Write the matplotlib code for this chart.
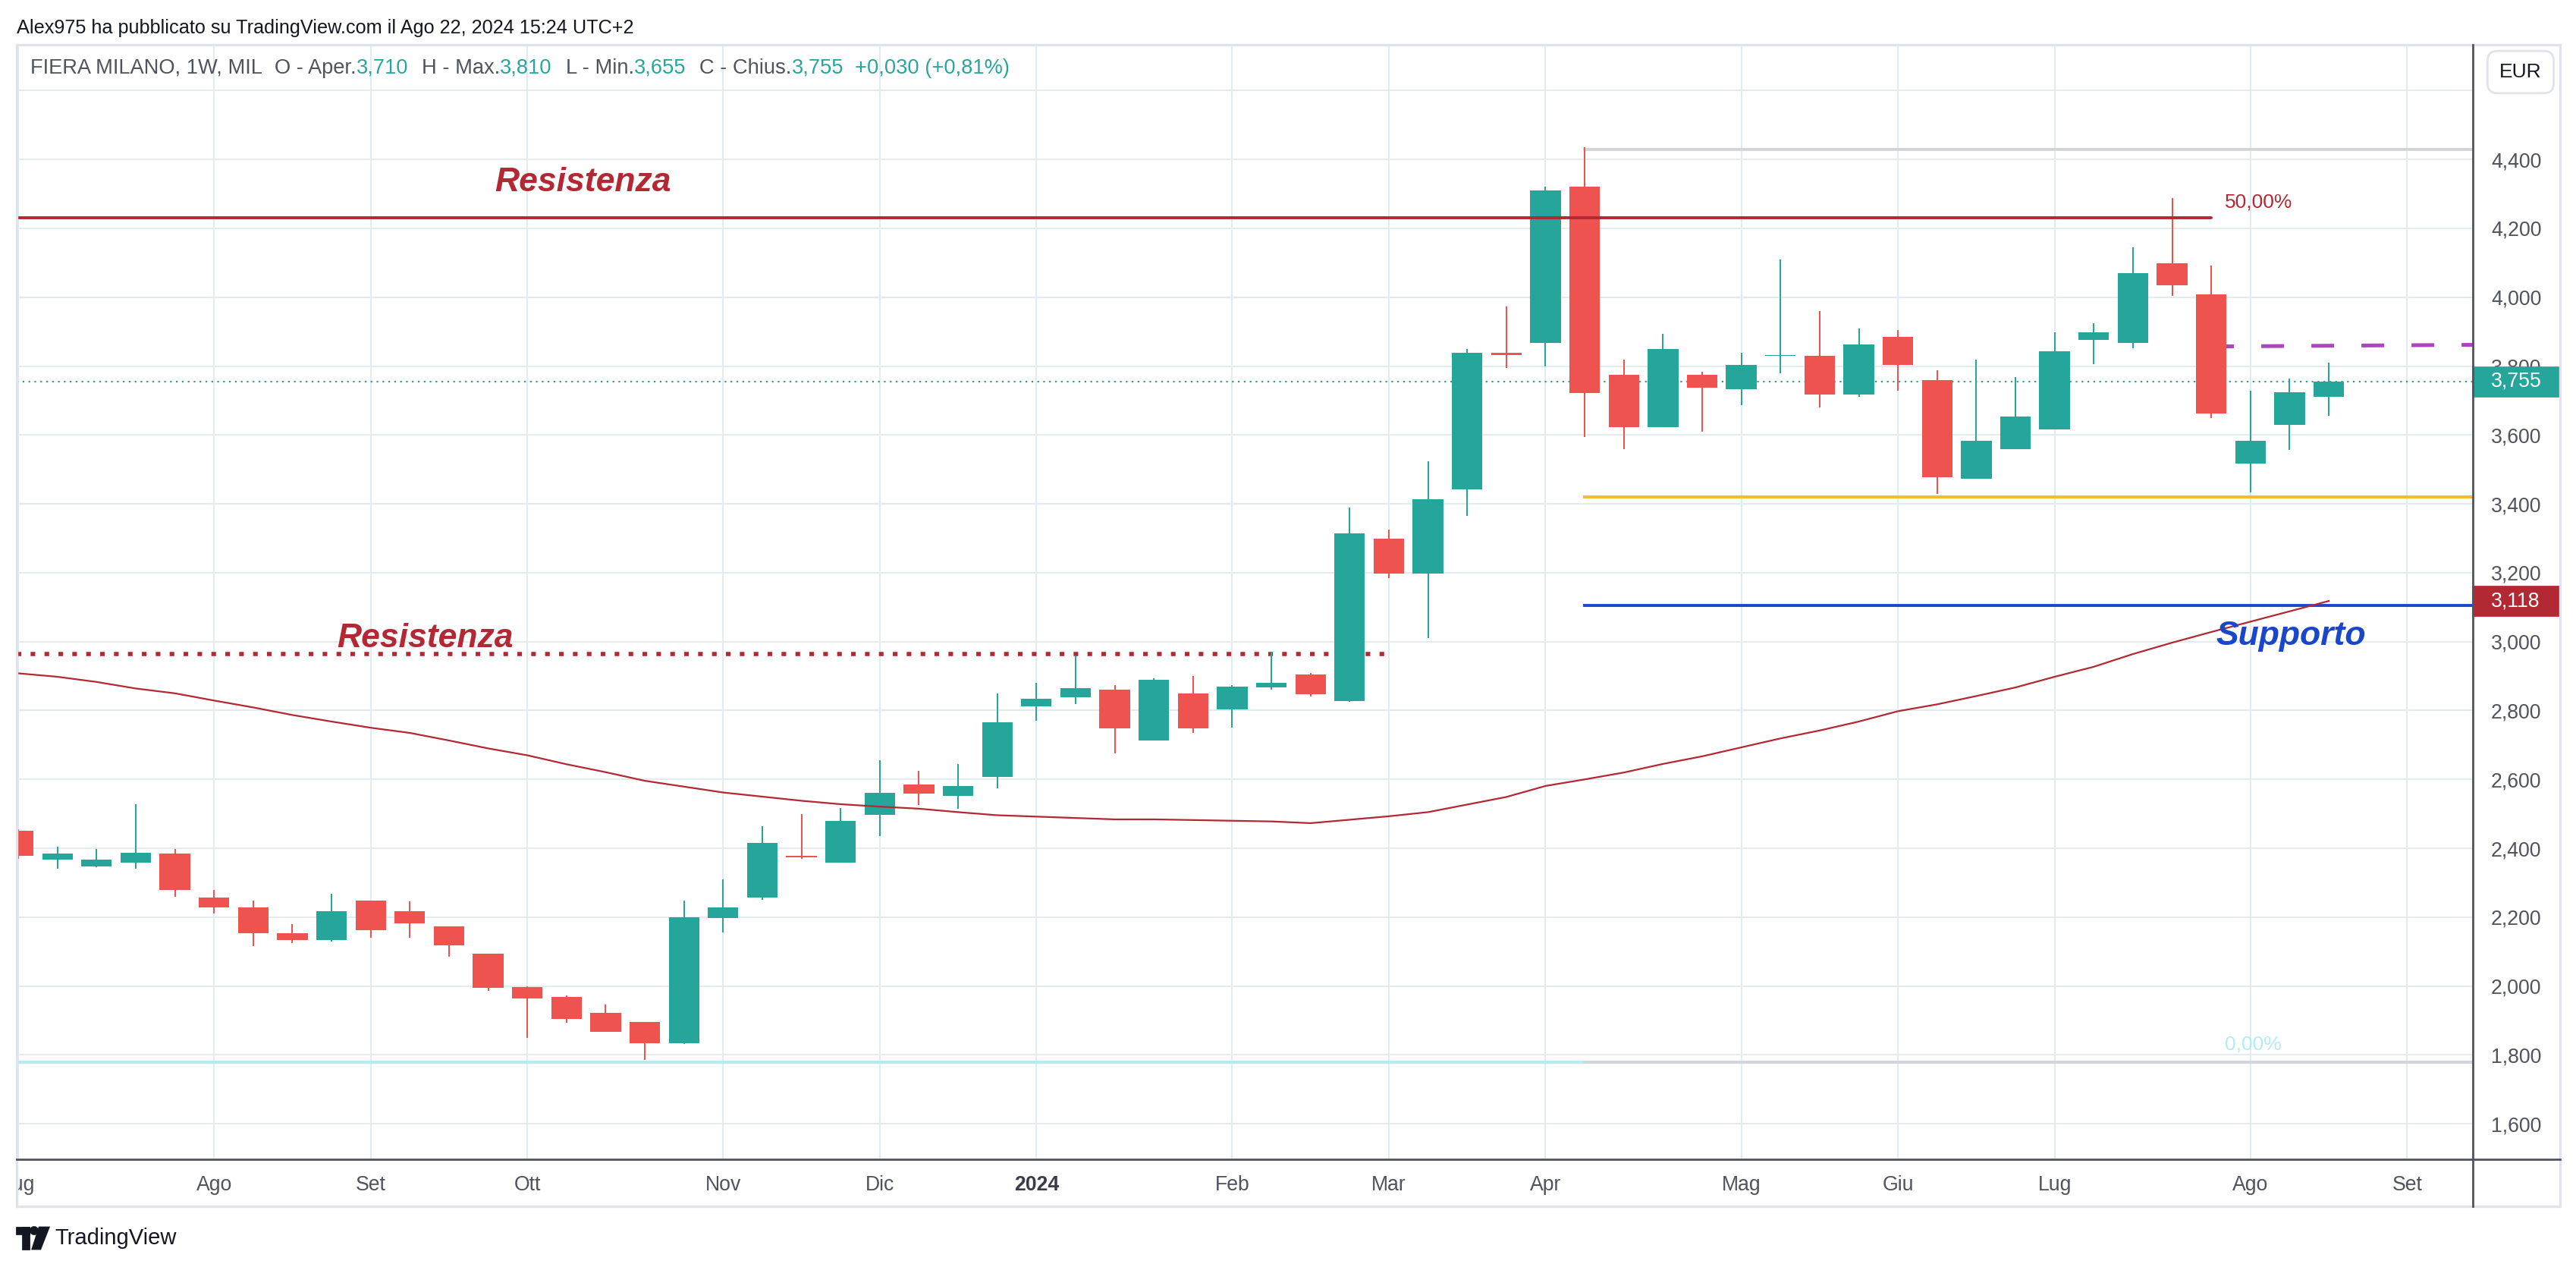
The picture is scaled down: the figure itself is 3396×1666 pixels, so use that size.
import matplotlib
matplotlib.use('Agg')
import matplotlib.pyplot as plt
from matplotlib.patches import Rectangle, Ellipse, Polygon
from matplotlib.lines import Line2D
from matplotlib.transforms import blended_transform_factory

plt.rcParams['font.family'] = ['Liberation Sans', 'DejaVu Sans']

# weekly candles, FIERA MILANO, 3 Jul 2023 -> 19 Aug 2024
opens = [2450, 2367, 2347, 2358, 2384, 2258, 2229, 2154, 2133, 2249,
         2218, 2174, 2095, 1996, 1969, 1923, 1896, 1833, 2197, 2257,
         2379, 2358, 2497, 2585, 2552, 2607, 2813, 2839, 2860, 2713,
         2849, 2804, 2868, 2904, 2828, 3298, 3198, 3443, 3839, 3868,
         4320, 3775, 3623, 3775, 3732, 3829, 3830, 3718, 3885, 3759,
         3473, 3558, 3617, 3877, 3868, 4099, 4008, 3518, 3629, 3710]
highs = [2455, 2404, 2399, 2529, 2399, 2280, 2249, 2179, 2269, 2249,
         2245, 2174, 2095, 2000, 1972, 1947, 1896, 2249, 2309, 2463,
         2499, 2518, 2655, 2624, 2644, 2849, 2880, 2960, 2874, 2893,
         2900, 2874, 2968, 2909, 3389, 3325, 3523, 3850, 3974, 4320,
         4435, 3818, 3894, 3784, 3839, 4110, 3960, 3909, 3905, 3788,
         3818, 3768, 3899, 3925, 4144, 4289, 4091, 3729, 3764, 3810]
lows = [2369, 2340, 2345, 2340, 2259, 2210, 2115, 2124, 2129, 2140,
        2140, 2085, 1987, 1849, 1893, 1868, 1785, 1831, 2155, 2250,
        2369, 2358, 2435, 2526, 2515, 2574, 2771, 2819, 2676, 2713,
        2735, 2751, 2861, 2841, 2826, 3184, 3010, 3366, 3795, 3800,
        3595, 3559, 3623, 3610, 3686, 3780, 3681, 3710, 3729, 3429,
        3473, 3558, 3617, 3805, 3851, 4004, 3650, 3434, 3556, 3655]
closes = [2378, 2384, 2368, 2388, 2279, 2228, 2153, 2133, 2218, 2162,
          2182, 2118, 1994, 1963, 1904, 1868, 1833, 2199, 2229, 2415,
          2374, 2479, 2560, 2559, 2580, 2765, 2834, 2865, 2749, 2889,
          2749, 2869, 2880, 2848, 3314, 3198, 3413, 3839, 3833, 4309,
          3722, 3623, 3850, 3738, 3804, 3832, 3718, 3863, 3803, 3478,
          3583, 3654, 3843, 3899, 4069, 4034, 3663, 3583, 3725, 3755]
# moving average (dark red line)
ma = [2908, 2898, 2883, 2864, 2850, 2829, 2809, 2787, 2768, 2750,
      2735, 2713, 2690, 2670, 2644, 2621, 2596, 2579, 2562, 2550,
      2538, 2528, 2521, 2515, 2505, 2496, 2492, 2488, 2484, 2484,
      2482, 2480, 2478, 2473, 2483, 2493, 2505, 2527, 2549, 2581,
      2600, 2620, 2645, 2667, 2693, 2719, 2742, 2768, 2798, 2818,
      2842, 2867, 2898, 2927, 2964, 2997, 3028, 3058, 3088, 3118]

month_pos = [0, 5, 9, 13, 18, 22, 26, 31, 35, 39, 44, 48, 52, 57, 61]
month_labels = ['Lug', 'Ago', 'Set', 'Ott', 'Nov', 'Dic', '2024', 'Feb',
                'Mar', 'Apr', 'Mag', 'Giu', 'Lug', 'Ago', 'Set']
price_ticks = list(range(1600, 4601, 200))

# drawn levels
resist_top = 4230
resist_top_end = 56
resist_low = 2965
resist_low_end = 35
fib_start = 40
fib_high = 4430
fib_low = 1780
yellow_level = 3419
support_level = 3105
purple_x = [56, 63]
purple_y = [3857, 3862]
last_close = 3755
ma_last = 3118

UP = '#26a69a'
DOWN = '#ef5350'
DARKRED = '#b22833'
BLUE = '#1a46cc'
TEXT = '#131722'
AXTEXT = '#50535e'

W, H = 3396, 1666
DPI = 200


def fx(px):
    return px / W


def fy(py):
    return 1 - py / H


fig = plt.figure(figsize=(W / DPI, H / DPI), dpi=DPI)
fig.patch.set_facecolor('white')
ax = fig.add_axes([fx(22), fy(1528), fx(3260) - fx(22), fy(59) - fy(1528)])
ax.set_xlim(-0.04, 62.68)
ax.set_ylim(1497, 4733)

# grid
ax.set_xticks(month_pos, month_labels)
ax.set_yticks(price_ticks, [f'{v:,}' if v <= 4400 else '' for v in price_ticks])
ax.grid(True, color='#e4ebf0', lw=0.75)
ax.set_axisbelow(True)
ax.yaxis.tick_right()
ax.tick_params(axis='both', length=0, labelsize=9.6, colors=AXTEXT)
ax.tick_params(axis='x', pad=7.5)
ax.tick_params(axis='y', pad=8.6)
for s in ax.spines.values():
    s.set_visible(False)
ax.get_xticklabels()[6].set_fontweight('bold')
ax.get_xticklabels()[6].set_color('#3a3d47')

# clip the first month label at the chart frame (shows as "ug")
first = ax.xaxis.get_major_ticks()[0].label1
first.set_clip_on(True)
first.set_clip_path(Rectangle((fx(22), 0), 1, 1, transform=fig.transFigure))

# horizontal levels
ax.plot([-0.04, fib_start], [fib_low, fib_low], color='#b2ebf2', lw=1.4, zorder=1)
ax.plot([fib_start, 62.68], [fib_low, fib_low], color='#d1d4dc', lw=1.4, zorder=1)
ax.plot([fib_start, 62.68], [fib_high, fib_high], color='#d1d4dc', lw=1.4, zorder=1)
ax.plot([fib_start, 62.68], [yellow_level, yellow_level], color='#f6b92b', lw=1.4, zorder=1)
ax.plot([fib_start, 62.68], [support_level, support_level], color=BLUE, lw=1.4, zorder=1)
ax.plot([-0.04, resist_low_end], [resist_low, resist_low], color=DARKRED, lw=2,
        ls=(0, (1.1, 2.2)), zorder=1)
ax.axhline(last_close, color=UP, lw=0.8, ls=(0, (1, 2.5)), zorder=1)

# candles
for i in range(len(opens)):
    o, h, l, c = opens[i], highs[i], lows[i], closes[i]
    col = UP if c >= o else DOWN
    ax.vlines(i, l, h, color=col, lw=0.72, zorder=3)
    ax.bar(i, max(abs(c - o), 4), bottom=min(o, c), width=0.78, color=col, zorder=3)

ax.plot([-0.04, resist_top_end], [resist_top, resist_top], color=DARKRED, lw=1.4,
        solid_capstyle='round', zorder=4)
ax.plot(range(len(ma)), ma, color=DARKRED, lw=0.8, zorder=4)
ax.plot(purple_x, purple_y, color='#ab47bc', lw=1.8, ls=(0, (6, 7.2)), zorder=2)

# annotations
ax.text(12.16, 4308, 'Resistenza', color=DARKRED, fontsize=16, fontweight='bold',
        style='italic', ha='left', va='baseline', zorder=5)
ax.text(8.13, 2984, 'Resistenza', color=DARKRED, fontsize=16, fontweight='bold',
        style='italic', ha='left', va='baseline', zorder=5)
ax.text(56.13, 2990, 'Supporto', color=BLUE, fontsize=16, fontweight='bold',
        style='italic', ha='left', va='baseline', zorder=5)
ax.text(56.35, 4260, '50,00%', color=DARKRED, fontsize=9.5, ha='left', va='baseline')
ax.text(56.35, 1816, '0,00%', color='#b2ebf2', fontsize=9.5, ha='left', va='baseline')

# price tags on the axis
trans = blended_transform_factory(fig.transFigure, ax.transData)
for val, col in [(last_close, UP), (ma_last, DARKRED)]:
    ax.add_patch(Rectangle((fx(3260), val - 42), fx(3375) - fx(3260), 84,
                           transform=trans, color=col, clip_on=False, zorder=6))
    ax.text(fx(3284), val, f'{val:,}', transform=trans, color='white', fontsize=9.6,
            ha='left', va='center', clip_on=False, zorder=7)

# frame and axis lines
fig.add_artist(Rectangle((fx(22), fy(1590)), fx(3375) - fx(22), fy(59) - fy(1590),
                         transform=fig.transFigure, fill=False, ec='#e0e3eb', lw=1.2))
fig.add_artist(Line2D([fx(22), fx(3375)], [fy(1528), fy(1528)], color=AXTEXT, lw=1.0))
fig.add_artist(Line2D([fx(3260), fx(3260)], [fy(59), fy(1590)], color=AXTEXT, lw=1.0))

fig.text(fx(3323), fy(95), 'EUR', ha='center', va='center', fontsize=9.5, color=TEXT,
         bbox=dict(boxstyle='round,pad=0.6,rounding_size=0.5', fc='white', ec='#e0e3eb', lw=1))

# header
fig.text(fx(22), fy(37), 'Alex975 ha pubblicato su TradingView.com il Ago 22, 2024 15:24 UTC+2',
         fontsize=9.1, color=TEXT, va='center')

legend_parts = [('FIERA MILANO, 1W, MIL', AXTEXT, 16), ('O - Aper.', AXTEXT, 0), ('3,710', UP, 18),
                ('H - Max.', AXTEXT, 0), ('3,810', UP, 18), ('L - Min.', AXTEXT, 0), ('3,655', UP, 18),
                ('C - Chius.', AXTEXT, 0), ('3,755', UP, 15), ('+0,030 (+0,81%)', UP, 0)]
renderer = fig.canvas.get_renderer()
x = 40
for txt, col, gap in legend_parts:
    t = fig.text(fx(x), fy(90), txt, fontsize=9.8, color=col, va='center')
    x = t.get_window_extent(renderer).x1 + gap

# TradingView logo
logo = '#131722'
fig.add_artist(Rectangle((fx(22), fy(1626)), fx(38) - fx(22), fy(1618) - fy(1626),
                         transform=fig.transFigure, color=logo))
fig.add_artist(Rectangle((fx(30), fy(1646)), fx(38) - fx(30), fy(1618) - fy(1646),
                         transform=fig.transFigure, color=logo))
fig.add_artist(Ellipse((fx(45), fy(1622)), 9 / W, 9 / H, transform=fig.transFigure, color=logo))
fig.add_artist(Polygon([(fx(52), fy(1618)), (fx(64), fy(1618)), (fx(53), fy(1646)), (fx(43), fy(1646))],
                       transform=fig.transFigure, color=logo))
fig.text(fx(72), fy(1632), 'TradingView', fontsize=10.5, color=TEXT, va='center')

fig.savefig('out.png', dpi=DPI, facecolor='white')
